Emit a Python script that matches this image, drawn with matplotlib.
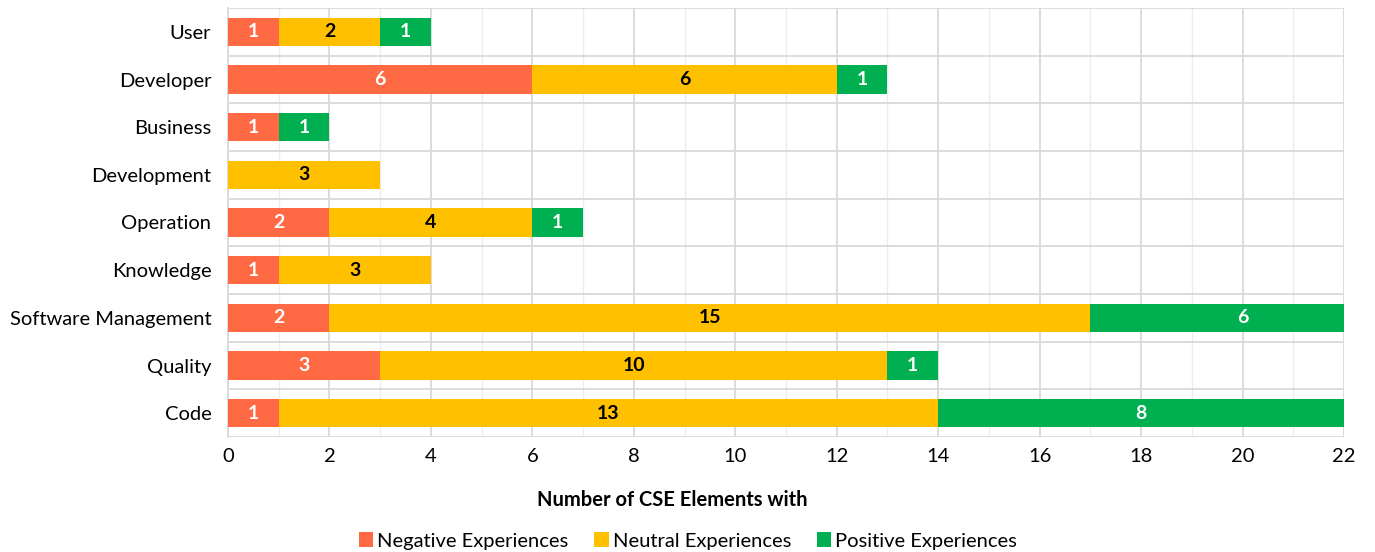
import numpy as np
import matplotlib.pyplot as plt
from matplotlib.ticker import MultipleLocator

plt.rcParams['font.family'] = ['Lato', 'DejaVu Sans']

categories = ["User", "Developer", "Business", "Development", "Operation",
              "Knowledge", "Software Management", "Quality", "Code"]
negative = [1, 6, 1, 0, 2, 1, 2, 3, 1]
neutral = [2, 6, 0, 3, 4, 3, 15, 10, 13]
positive = [1, 1, 1, 0, 1, 0, 6, 1, 8]

series = [("Negative Experiences", negative, "#FF6A45", "white"),
          ("Neutral Experiences", neutral, "#FFC000", "black"),
          ("Positive Experiences", positive, "#00B050", "white")]

fig = plt.figure(figsize=(13.75, 5.52), dpi=100)
ax = fig.add_axes([228/1375, 1-437/552, (1344-228)/1375, (437-8)/552])

y = np.arange(len(categories))
left = np.zeros(len(categories))
xmax = 22
for name, vals, col, tcol in series:
    vals = np.array(vals, dtype=float)
    ax.barh(y, vals, left=left, height=0.6, color=col, label=name, zorder=3)
    for yi, (l, v) in enumerate(zip(left, vals)):
        if v > 0:
            ax.text(l + v/2, yi, f"{int(v)}", ha='center', va='center',
                    color=tcol, fontsize=14, fontweight='bold', zorder=4)
    left += vals

ax.set_xlim(0, xmax)
ax.set_ylim(len(categories) - 0.5, -0.5)
ax.set_yticks(y)
ax.set_yticklabels(categories, fontsize=14.5)
ax.xaxis.set_major_locator(MultipleLocator(2))
ax.xaxis.set_minor_locator(MultipleLocator(1))
ax.tick_params(axis='x', labelsize=14.5, length=0, which='both', pad=8)
ax.tick_params(axis='y', length=0, pad=12)
ax.set_yticks(np.arange(len(categories) + 1) - 0.5, minor=True)
ax.grid(True, which='major', axis='x', color='#D9D9D9', linewidth=1.3, zorder=0)
ax.grid(True, which='minor', axis='x', color='#EDEDED', linewidth=1.0, zorder=0)
ax.grid(True, which='minor', axis='y', color='#D9D9D9', linewidth=1.3, zorder=0)
ax.tick_params(axis='y', which='minor', length=0)
for s in ['top', 'right', 'bottom']:
    ax.spines[s].set_visible(False)
ax.spines['left'].set_color('#D9D9D9')
ax.spines['left'].set_linewidth(1.3)

fig.text(672/1375, 1-500/552, "Number of CSE Elements with", ha='center', va='center',
         fontsize=14.5, fontweight='bold')
fig.legend(*ax.get_legend_handles_labels(), loc='center', bbox_to_anchor=(688/1375, 1-541/552),
           ncol=3, frameon=False, fontsize=14.5, handlelength=0.7, handleheight=0.7,
           handletextpad=0.2, columnspacing=1.3, borderpad=0)

fig.savefig("out.png", dpi=100)
